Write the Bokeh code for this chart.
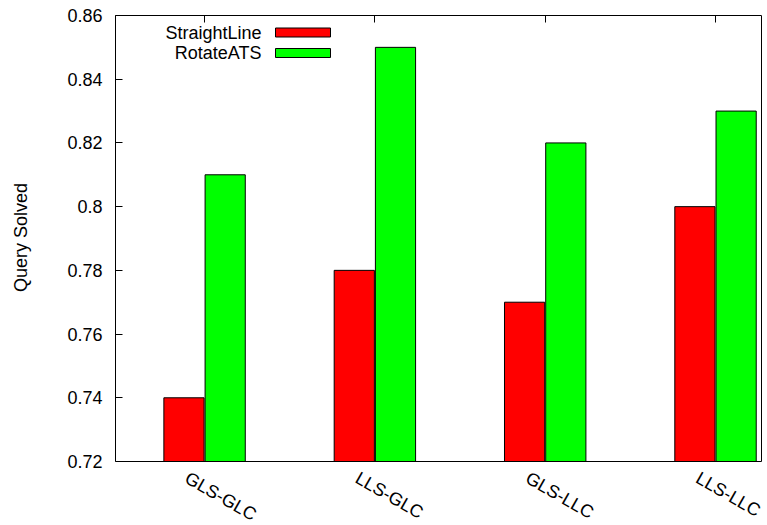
from bokeh.plotting import figure
from bokeh.models import FixedTicker, LinearAxis, Range1d, Label, ColumnDataSource
from bokeh.embed import file_html
from bokeh.resources import INLINE
import math

categories = ["GLS-GLC", "LLS-GLC", "GLS-LLC", "LLS-LLC"]
straight_line = [0.74, 0.78, 0.77, 0.80]
rotate_ats = [0.81, 0.85, 0.82, 0.83]
y_ticks = [0.72, 0.74, 0.76, 0.78, 0.80, 0.82, 0.84, 0.86]
y_tick_labels = ["0.72", "0.74", "0.76", "0.78", "0.8", "0.82", "0.84", "0.86"]
y_title = "Query Solved"

FONT = "Liberation Sans"
FS = "18px"
idx = list(range(len(categories)))
bw = 0.236
off = 0.121

# visible plot box (data) and its pixel edges on the page
x0, xr = -0.523, 3.27
y0, y1 = 0.72, 0.86
FL, FT, FR, FB = 115.0, 15.0, 761.0, 461.0
W, H = 766, 524

# the drawing frame extends below / right of the box so rotated labels stay inside it
ux = (FR - FL) / (xr - x0)
uy = (FB - FT) / (y1 - y0)
x_end = x0 + (W - FL) / ux
y_low = y0 - (H - FB) / uy

def dx(px):
    return x0 + (px - FL) / ux

def dy(py):
    return y1 - (py - FT) / uy

p = figure(width=W, height=H, output_backend="svg", toolbar_location=None,
           x_range=Range1d(x0, x_end), y_range=Range1d(y_low, y1), x_axis_location=None,
           min_border_left=int(FL), min_border_top=int(FT), min_border_right=0, min_border_bottom=0)
p.grid.visible = False
p.outline_line_color = None

src = ColumnDataSource(dict(xr=[i - off for i in idx], xg=[i + off for i in idx],
                            s=straight_line, r=rotate_ats, b=[y0] * len(idx)))
p.vbar(x="xr", top="s", bottom="b", width=bw, source=src, fill_color="#ff0000", line_color="black", line_width=1)
p.vbar(x="xg", top="r", bottom="b", width=bw, source=src, fill_color="#00ff00", line_color="black", line_width=1)

# plot box border
p.quad(left=[x0], right=[xr], bottom=[y0], top=[y1], fill_color=None, line_color="black", line_width=1)

# y axis
ya = p.yaxis[0]
ya.bounds = (y0, y1)
ya.ticker = FixedTicker(ticks=y_ticks)
ya.major_label_overrides = {t: l for t, l in zip(y_ticks, y_tick_labels)}
ya.major_tick_in = 7
ya.major_tick_out = 0
ya.minor_tick_line_color = None
ya.major_label_standoff = 13
ya.major_label_text_font = FONT
ya.major_label_text_font_size = FS
ya.major_label_text_color = "black"
# the axis title is centred on the whole (extended) frame; pad its start with
# non-breaking spaces so the visible words sit centred on the plot box
ya.axis_label = "\u00a0" * 13 + y_title
ya.axis_label_text_font = FONT
ya.axis_label_text_font_size = FS
ya.axis_label_text_font_style = "normal"
ya.axis_label_text_color = "black"
ya.axis_label_standoff = 33
ya.axis_line_color = "black"

# top mirror ticks at the categories
top = LinearAxis(ticker=FixedTicker(ticks=idx), major_label_text_font_size="0px",
                 major_tick_in=7, major_tick_out=0, minor_tick_line_color=None,
                 axis_line_color="black", major_label_standoff=0, bounds=(x0, xr))
top.major_label_overrides = {i: "" for i in idx}
p.add_layout(top, "above")

# rotated category labels under the box
for i, c in zip(idx, categories):
    p.add_layout(Label(x=i, y=dy(476), text=c, x_offset=-18, angle=-math.pi / 6,
                       text_align="left", text_baseline="middle",
                       text_font=FONT, text_font_size=FS, text_color="black"))

# legend (gnuplot style: label then sample)
leg_names = ["StraightLine", "RotateATS"]
leg_colors = ["#ff0000", "#00ff00"]
rows = [32.0, 52.5]
for name, col, ry in zip(leg_names, leg_colors, rows):
    p.add_layout(Label(x=dx(261), y=dy(ry), text=name, text_align="right", text_baseline="middle",
                       text_font=FONT, text_font_size=FS, text_color="black"))
    p.quad(left=[dx(275)], right=[dx(330)], top=[dy(ry - 4.5)], bottom=[dy(ry + 4.5)],
           fill_color=col, line_color="black", line_width=1)

open("out.html", "w").write(file_html(p, INLINE))
